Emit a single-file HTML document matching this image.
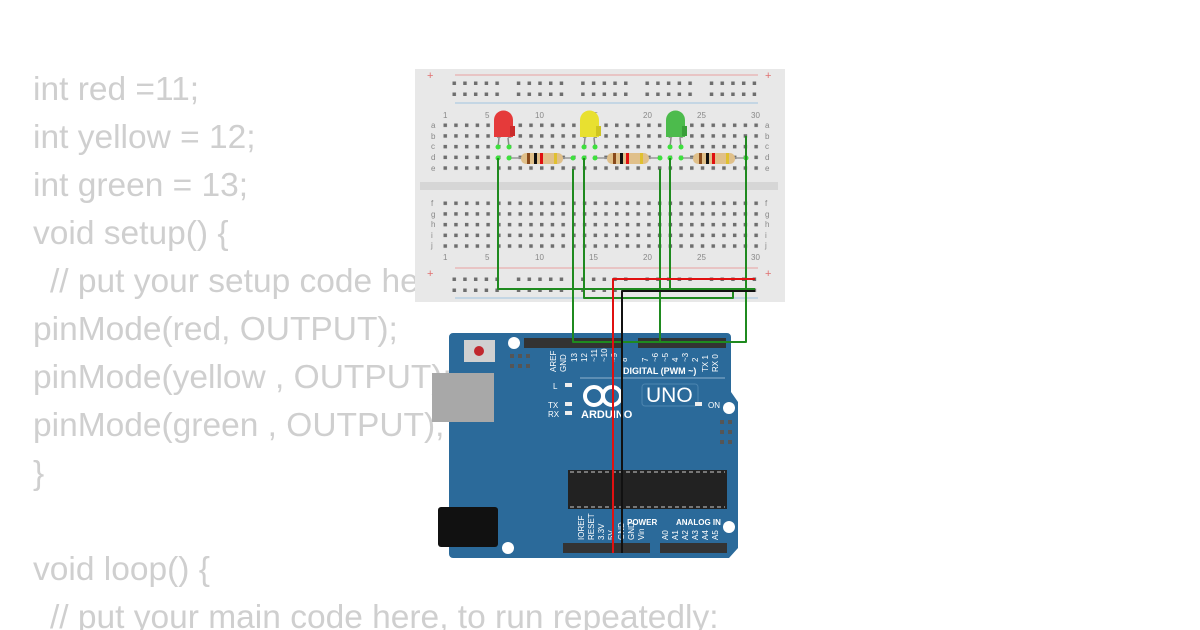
<!DOCTYPE html>
<html><head><meta charset="utf-8"><style>
html,body{margin:0;padding:0;background:#fff;width:1200px;height:630px;overflow:hidden}
svg{position:absolute;left:0;top:0}
.code{font-family:"Liberation Sans",sans-serif;font-size:33.5px;fill:#cfcfcf}
.bl{font-family:"Liberation Sans",sans-serif;font-size:8px;fill:#888}
.al{font-family:"Liberation Sans",sans-serif;font-weight:bold;fill:#fff}
</style></head><body>
<svg width="1200" height="630" viewBox="0 0 1200 630" xmlns="http://www.w3.org/2000/svg">
<defs>
<pattern id="h" x="443.5" y="123.5" width="10.72" height="10.7" patternUnits="userSpaceOnUse"><rect x="0" y="0" width="3.5" height="3.5" fill="#6e6e6e"/></pattern>
<pattern id="h2" x="443.5" y="201.5" width="10.72" height="10.7" patternUnits="userSpaceOnUse"><rect x="0" y="0" width="3.5" height="3.5" fill="#6e6e6e"/></pattern>
<pattern id="r" x="452.5" y="81.5" width="10.72" height="11" patternUnits="userSpaceOnUse"><rect x="0" y="0" width="3.5" height="3.5" fill="#6e6e6e"/></pattern>
<pattern id="r2" x="452.5" y="277.5" width="10.72" height="11" patternUnits="userSpaceOnUse"><rect x="0" y="0" width="3.5" height="3.5" fill="#6e6e6e"/></pattern>
</defs>
<!-- code -->
<g class="code">
<text x="33" y="100">int red =11;</text>
<text x="33" y="148">int yellow = 12;</text>
<text x="33" y="196">int green = 13;</text>
<text x="33" y="244">void setup() {</text>
<text x="50" y="292">// put your setup code here, to run once:</text>
<text x="33" y="340">pinMode(red, OUTPUT);</text>
<text x="33" y="388">pinMode(yellow , OUTPUT);</text>
<text x="33" y="436">pinMode(green , OUTPUT);</text>
<text x="33" y="484">}</text>
<text x="33" y="580">void loop() {</text>
<text x="50" y="628">// put your main code here, to run repeatedly:</text>
</g>
<!-- breadboard -->
<rect x="415" y="69" width="370" height="233" fill="#e8e8e8"/>
<rect x="420" y="182" width="358" height="8" fill="#d6d6d6"/>
<line x1="455" y1="75" x2="758" y2="75" stroke="#e8a0a0" stroke-width="1"/>
<line x1="455" y1="103" x2="758" y2="103" stroke="#a0c4e0" stroke-width="1"/>
<line x1="455" y1="268" x2="758" y2="268" stroke="#e8a0a0" stroke-width="1"/>
<line x1="455" y1="298" x2="758" y2="298" stroke="#a0c4e0" stroke-width="1"/>
<g fill="#e07070" font-size="11" font-family="Liberation Sans"><text x="427" y="79">+</text><text x="765" y="79">+</text><text x="427" y="277">+</text><text x="765" y="277">+</text></g>
<g fill="url(#r)">
<rect x="452" y="81" width="53" height="16"/><rect x="516" y="81" width="53" height="16"/><rect x="580" y="81" width="53" height="16"/><rect x="645" y="81" width="53" height="16"/><rect x="709" y="81" width="53" height="16"/>
</g>
<g fill="url(#r2)">
<rect x="452" y="277" width="53" height="16"/><rect x="516" y="277" width="53" height="16"/><rect x="580" y="277" width="53" height="16"/><rect x="645" y="277" width="53" height="16"/><rect x="709" y="277" width="53" height="16"/>
</g>
<rect x="443" y="123" width="320" height="50" fill="url(#h)"/>
<rect x="443" y="201" width="320" height="50" fill="url(#h2)"/>
<g class="bl">
<text x="443" y="118">1</text><text x="485" y="118">5</text><text x="535" y="118">10</text><text x="589" y="118">15</text><text x="643" y="118">20</text><text x="697" y="118">25</text><text x="751" y="118">30</text>
<text x="443" y="260">1</text><text x="485" y="260">5</text><text x="535" y="260">10</text><text x="589" y="260">15</text><text x="643" y="260">20</text><text x="697" y="260">25</text><text x="751" y="260">30</text>
<text x="431" y="128">a</text><text x="431" y="139">b</text><text x="431" y="149">c</text><text x="431" y="160">d</text><text x="431" y="171">e</text>
<text x="431" y="206">f</text><text x="431" y="217">g</text><text x="431" y="227">h</text><text x="431" y="238">i</text><text x="431" y="248">j</text>
<text x="765" y="128">a</text><text x="765" y="139">b</text><text x="765" y="149">c</text><text x="765" y="160">d</text><text x="765" y="171">e</text>
<text x="765" y="206">f</text><text x="765" y="217">g</text><text x="765" y="227">h</text><text x="765" y="238">i</text><text x="765" y="248">j</text>
</g>
<!-- resistors -->
<g stroke="#999" stroke-width="1.5"><line x1="509" y1="158" x2="573" y2="158"/><line x1="595" y1="158" x2="660" y2="158"/><line x1="681" y1="158" x2="746" y2="158"/></g>
<g>
<rect x="521" y="153" width="42" height="11" rx="5" fill="#e0c08a"/><rect x="527" y="153" width="3" height="11" fill="#8a4b1c"/><rect x="534" y="153" width="3" height="11" fill="#111"/><rect x="540" y="153" width="3" height="11" fill="#e01010"/><rect x="554" y="153" width="3" height="11" fill="#e0c030"/>
<rect x="607" y="153" width="42" height="11" rx="5" fill="#e0c08a"/><rect x="613" y="153" width="3" height="11" fill="#8a4b1c"/><rect x="620" y="153" width="3" height="11" fill="#111"/><rect x="626" y="153" width="3" height="11" fill="#e01010"/><rect x="640" y="153" width="3" height="11" fill="#e0c030"/>
<rect x="693" y="153" width="42" height="11" rx="5" fill="#e0c08a"/><rect x="699" y="153" width="3" height="11" fill="#8a4b1c"/><rect x="706" y="153" width="3" height="11" fill="#111"/><rect x="712" y="153" width="3" height="11" fill="#e01010"/><rect x="726" y="153" width="3" height="11" fill="#e0c030"/>
</g>
<!-- LEDs -->
<g stroke="#888" stroke-width="1.5"><line x1="499" y1="138" x2="498" y2="147"/><line x1="508" y1="138" x2="509" y2="147"/><line x1="585" y1="138" x2="584" y2="147"/><line x1="594" y1="138" x2="595" y2="147"/><line x1="671" y1="138" x2="670" y2="147"/><line x1="680" y1="138" x2="681" y2="147"/></g>
<path d="M494,137 V120 a9.5,9.5 0 0 1 19,0 V137 Z" fill="#e53a3a"/><rect x="510" y="126" width="5" height="10" fill="#c92b2b"/>
<path d="M580,137 V120 a9.5,9.5 0 0 1 19,0 V137 Z" fill="#e8e030"/><rect x="596" y="126" width="5" height="10" fill="#cfc520"/>
<path d="M666,137 V120 a9.5,9.5 0 0 1 19,0 V137 Z" fill="#4cbb4c"/><rect x="682" y="126" width="5" height="10" fill="#3a9e3a"/>
<g fill="#3ee03e">
<circle cx="498" cy="147" r="2.5"/><circle cx="509" cy="147" r="2.5"/><circle cx="584" cy="147" r="2.5"/><circle cx="595" cy="147" r="2.5"/><circle cx="670" cy="147" r="2.5"/><circle cx="681" cy="147" r="2.5"/>
<circle cx="498" cy="158" r="2.5"/><circle cx="509" cy="158" r="2.5"/><circle cx="573" cy="158" r="2.5"/><circle cx="584" cy="158" r="2.5"/><circle cx="595" cy="158" r="2.5"/><circle cx="660" cy="158" r="2.5"/><circle cx="670" cy="158" r="2.5"/><circle cx="681" cy="158" r="2.5"/><circle cx="746" cy="158" r="2.5"/>
</g>
<!-- Arduino -->
<path d="M453,333 H727 a4,4 0 0 1 4,4 V392 L738,402 V548 L729,558 H453 a4,4 0 0 1 -4,-4 V337 a4,4 0 0 1 4,-4 Z" fill="#2b6a9a"/>
<circle cx="514" cy="343" r="6" fill="#fff"/><circle cx="729" cy="408" r="6" fill="#fff"/><circle cx="729" cy="527" r="6" fill="#fff"/><circle cx="508" cy="548" r="6" fill="#fff"/>
<rect x="464" y="340" width="31" height="22" fill="#d0d0d0"/><circle cx="479" cy="351" r="5" fill="#c0272d"/>
<g fill="#555"><rect x="510" y="354" width="4" height="4"/><rect x="518" y="354" width="4" height="4"/><rect x="526" y="354" width="4" height="4"/><rect x="510" y="364" width="4" height="4"/><rect x="518" y="364" width="4" height="4"/><rect x="526" y="364" width="4" height="4"/>
<rect x="720" y="420" width="4" height="4"/><rect x="728" y="420" width="4" height="4"/><rect x="720" y="430" width="4" height="4"/><rect x="728" y="430" width="4" height="4"/><rect x="720" y="440" width="4" height="4"/><rect x="728" y="440" width="4" height="4"/></g>
<rect x="432" y="373" width="62" height="49" fill="#a8a8a8"/>
<rect x="438" y="507" width="60" height="40" rx="3" fill="#111"/>
<rect x="524" y="338" width="98" height="10" fill="#333"/><rect x="638" y="338" width="88" height="10" fill="#333"/>
<rect x="563" y="543" width="87" height="10" fill="#333"/><rect x="660" y="543" width="67" height="10" fill="#333"/>
<rect x="568" y="470" width="159" height="39" fill="#222"/>
<line x1="570" y1="472" x2="725" y2="472" stroke="#ccc" stroke-dasharray="4,3"/><line x1="570" y1="507" x2="725" y2="507" stroke="#ccc" stroke-dasharray="4,3"/>
<rect x="642" y="384" width="56" height="22" rx="3" fill="none" stroke="#4d85b0"/>
<text x="646" y="402" font-family="Liberation Sans" font-size="21" fill="#fff">UNO</text>
<circle cx="594" cy="396" r="9" fill="none" stroke="#fff" stroke-width="4"/><circle cx="612" cy="396" r="9" fill="none" stroke="#fff" stroke-width="4"/>
<text x="581" y="418" class="al" font-size="11">ARDUINO</text>
<text x="623" y="374" class="al" font-size="9">DIGITAL (PWM ~)</text>
<text x="676" y="525" class="al" font-size="8">ANALOG IN</text><text x="627" y="525" class="al" font-size="8">POWER</text>
<g font-family="Liberation Sans" font-size="8" fill="#fff"><text x="553" y="389">L</text><text x="548" y="408">TX</text><text x="548" y="417">RX</text><text x="708" y="408">ON</text></g>
<g fill="#eee"><rect x="565" y="383" width="7" height="4"/><rect x="565" y="402" width="7" height="4"/><rect x="565" y="411" width="7" height="4"/><rect x="695" y="402" width="7" height="4"/></g>
<line x1="580" y1="378" x2="725" y2="378" stroke="#8fb3cf"/>
<g font-family="Liberation Sans" font-size="8" fill="#fff">
<text transform="translate(556,372) rotate(-90)">AREF</text><text transform="translate(566,372) rotate(-90)">GND</text>
<text transform="translate(577,362) rotate(-90)">13</text><text transform="translate(587,362) rotate(-90)">12</text><text transform="translate(597,362) rotate(-90)">~11</text><text transform="translate(607,362) rotate(-90)">~10</text><text transform="translate(617,362) rotate(-90)">~9</text><text transform="translate(627,362) rotate(-90)">8</text>
<text transform="translate(648,362) rotate(-90)">7</text><text transform="translate(658,362) rotate(-90)">~6</text><text transform="translate(668,362) rotate(-90)">~5</text><text transform="translate(678,362) rotate(-90)">4</text><text transform="translate(688,362) rotate(-90)">~3</text><text transform="translate(698,362) rotate(-90)">2</text><text transform="translate(708,372) rotate(-90)">TX 1</text><text transform="translate(718,372) rotate(-90)">RX 0</text>
<text transform="translate(584,540) rotate(-90)">IOREF</text><text transform="translate(594,540) rotate(-90)">RESET</text><text transform="translate(604,540) rotate(-90)">3.3V</text><text transform="translate(614,540) rotate(-90)">5V</text><text transform="translate(624,540) rotate(-90)">GND</text><text transform="translate(634,540) rotate(-90)">GND</text><text transform="translate(644,540) rotate(-90)">Vin</text>
<text transform="translate(668,540) rotate(-90)">A0</text><text transform="translate(678,540) rotate(-90)">A1</text><text transform="translate(688,540) rotate(-90)">A2</text><text transform="translate(698,540) rotate(-90)">A3</text><text transform="translate(708,540) rotate(-90)">A4</text><text transform="translate(718,540) rotate(-90)">A5</text>
</g>
<!-- wires -->
<g fill="none" stroke-width="2" stroke-linejoin="round">
<polyline points="498,158 498,289 755,289" stroke="#1f8a1f"/>
<polyline points="670,158 670,289" stroke="#1f8a1f"/>
<polyline points="584,158 584,298 733,298 733,290" stroke="#1f8a1f"/>
<polyline points="573,169 573,342 746,342 746,136" stroke="#1f8a1f"/>
<polyline points="660,169 660,342" stroke="#1f8a1f"/>
<polyline points="755,279 613,279 613,553" stroke="#e01010"/>
<polyline points="755,291 622,291 622,553" stroke="#111"/>
</g>
</svg>
</body></html>
